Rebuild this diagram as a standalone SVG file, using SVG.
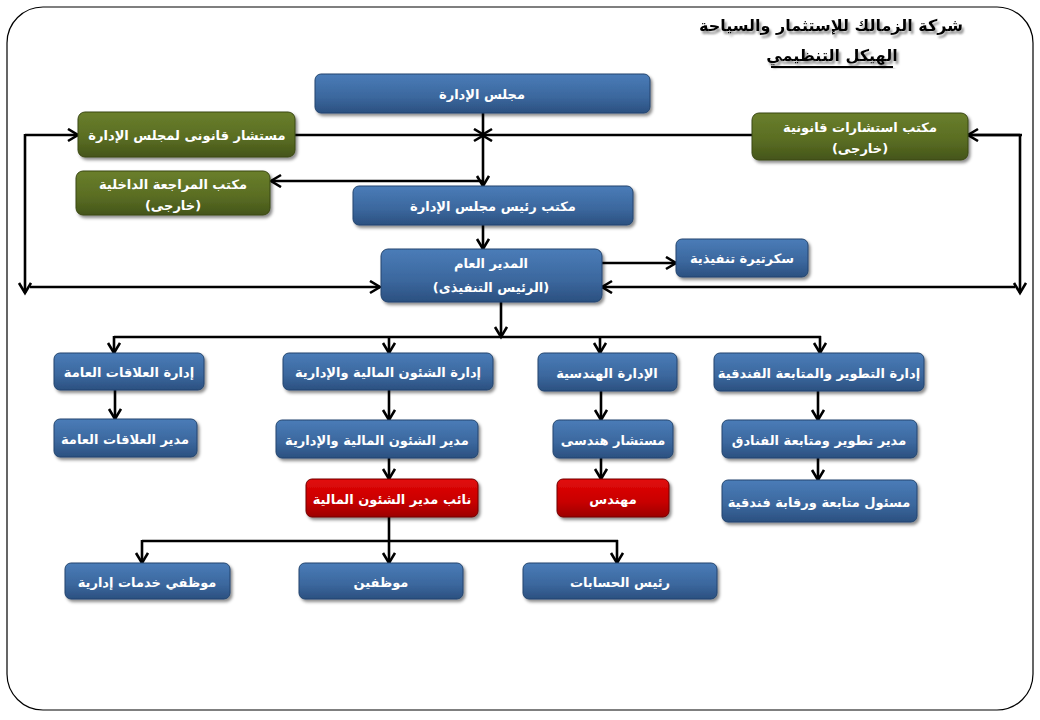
<svg xmlns="http://www.w3.org/2000/svg" width="1040" height="720" viewBox="0 0 1040 720">
<defs>
<linearGradient id="gBlue" x1="0" y1="0" x2="0" y2="1">
<stop offset="0" stop-color="#4a7cb8"/><stop offset="0.6" stop-color="#3b679d"/><stop offset="1" stop-color="#2b5080"/>
</linearGradient>
<linearGradient id="gGreen" x1="0" y1="0" x2="0" y2="1">
<stop offset="0" stop-color="#6a7f2c"/><stop offset="0.6" stop-color="#596c22"/><stop offset="1" stop-color="#44551a"/>
</linearGradient>
<linearGradient id="gRed" x1="0" y1="0" x2="0" y2="1">
<stop offset="0" stop-color="#e20a0a"/><stop offset="0.6" stop-color="#c80000"/><stop offset="1" stop-color="#9c0000"/>
</linearGradient>
<filter id="sh" x="-10%" y="-20%" width="130%" height="160%">
<feDropShadow dx="2" dy="2.5" stdDeviation="1.5" flood-color="#000" flood-opacity="0.45"/>
</filter>
<filter id="tsh" x="-10%" y="-30%" width="130%" height="180%">
<feDropShadow dx="2" dy="3" stdDeviation="1.2" flood-color="#777" flood-opacity="0.8"/>
</filter>
<marker id="ah" markerUnits="userSpaceOnUse" markerWidth="16" markerHeight="16" refX="12" refY="7" orient="auto">
<path d="M2,1 L12,7 L2,13" fill="none" stroke="#000" stroke-width="2.6" stroke-linejoin="miter"/>
</marker>
<style>
.b{fill:url(#gBlue);stroke:#24456e;stroke-width:1;filter:url(#sh)}
.g{fill:url(#gGreen);stroke:#3a4812;stroke-width:1;filter:url(#sh)}
.r{fill:url(#gRed);stroke:#700000;stroke-width:1;filter:url(#sh)}
.t{font-family:"DejaVu Sans","Liberation Sans",sans-serif;font-weight:bold;font-size:13px;fill:#fff;text-anchor:middle}
.c line,.c path{stroke:#000;stroke-width:2.6;fill:none}
.a{marker-end:url(#ah)}
.title{font-family:"DejaVu Sans","Liberation Sans",sans-serif;font-weight:bold;fill:#000;text-anchor:middle;filter:url(#tsh)}
</style>
</defs>
<rect x="7" y="7" width="1026" height="703" rx="36" ry="36" fill="#fff" stroke="#000" stroke-width="1.2"/>
<g id="title">
<text class="title" x="831" y="31" font-size="16">شركة الزمالك للإستثمار والسياحة</text>
<text class="title" x="832" y="61" font-size="16">الهيكل التنظيمي</text>
<rect x="771" y="66" width="122" height="2" fill="#000" filter="url(#tsh)"/>
</g>
<g id="connectors" class="c">
<line class="a" x1="483" y1="113" x2="483" y2="186"/>
<line class="a" x1="295" y1="135" x2="484" y2="135"/>
<line class="a" x1="752" y1="135" x2="482" y2="135"/>
<line class="a" x1="483" y1="181" x2="271" y2="181"/>
<line class="a" x1="483" y1="225" x2="483" y2="249"/>
<line class="a" x1="25" y1="135" x2="78" y2="135"/>
<line class="a" x1="25" y1="134" x2="25" y2="293"/>
<line class="a" x1="30" y1="287" x2="380" y2="287"/>
<line x1="968" y1="135" x2="1022" y2="135"/>
<line class="a" x1="1020" y1="135" x2="968" y2="135"/>
<line class="a" x1="1020" y1="134" x2="1020" y2="293"/>
<line class="a" x1="1015" y1="287" x2="602" y2="287"/>
<line class="a" x1="602" y1="263" x2="676" y2="263"/>
<line class="a" x1="501" y1="302" x2="501" y2="337"/>
<line x1="114" y1="337" x2="821" y2="337"/>
<line class="a" x1="114" y1="336" x2="114" y2="353"/>
<line class="a" x1="389" y1="336" x2="389" y2="353"/>
<line class="a" x1="600" y1="336" x2="600" y2="353"/>
<line class="a" x1="820" y1="336" x2="820" y2="353"/>
<line class="a" x1="115" y1="390" x2="115" y2="419"/>
<line class="a" x1="389" y1="390" x2="389" y2="420"/>
<line class="a" x1="601" y1="391" x2="601" y2="420"/>
<line class="a" x1="818" y1="391" x2="818" y2="420"/>
<line class="a" x1="389" y1="458" x2="389" y2="479"/>
<line class="a" x1="601" y1="458" x2="601" y2="479"/>
<line class="a" x1="818" y1="458" x2="818" y2="480"/>
<line class="a" x1="389" y1="517" x2="389" y2="563"/>
<line x1="142" y1="541" x2="618" y2="541"/>
<line class="a" x1="142" y1="540" x2="142" y2="563"/>
<line class="a" x1="617" y1="540" x2="617" y2="563"/>
</g>
<g id="n-board"><rect class="b" x="315" y="74" width="335" height="39" rx="6"/><text class="t" x="482" y="99">مجلس الإدارة</text></g>
<g id="n-chairman-office"><rect class="b" x="353" y="186" width="280" height="39" rx="6"/><text class="t" x="493" y="211">مكتب رئيس مجلس الإدارة</text></g>
<g id="n-legal-advisor"><rect class="g" x="78" y="112" width="217" height="45" rx="7"/><text class="t" x="187" y="140">مستشار قانونى لمجلس الإدارة</text></g>
<g id="n-internal-audit"><rect class="g" x="76" y="171" width="194" height="44" rx="7"/><text class="t" x="173" y="189">مكتب المراجعة الداخلية</text><text class="t" x="173" y="210">(خارجى)</text></g>
<g id="n-legal-office"><rect class="g" x="752" y="113" width="216" height="47" rx="7"/><text class="t" x="860" y="132">مكتب استشارات قانونية</text><text class="t" x="860" y="153">(خارجى)</text></g>
<g id="n-secretary"><rect class="b" x="676" y="239" width="132" height="38" rx="6"/><text class="t" x="742" y="263">سكرتيرة تنفيذية</text></g>
<g id="n-gm"><rect class="b" x="381" y="249" width="221" height="53" rx="7"/><text class="t" x="491" y="268">المدير العام</text><text class="t" x="491" y="292">(الرئيس التنفيذى)</text></g>
<g id="n-pr-dept"><rect class="b" x="54" y="353" width="150" height="37" rx="6"/><text class="t" x="129" y="377">إدارة العلاقات العامة</text></g>
<g id="n-fin-dept"><rect class="b" x="283" y="353" width="210" height="37" rx="6"/><text class="t" x="388" y="377">إدارة الشئون المالية والإدارية</text></g>
<g id="n-eng-dept"><rect class="b" x="538" y="353" width="139" height="38" rx="6"/><text class="t" x="607" y="378">الإدارة الهندسية</text></g>
<g id="n-hotel-dept"><rect class="b" x="714" y="353" width="210" height="38" rx="6"/><text class="t" x="819" y="378">إدارة التطوير والمتابعة الفندقية</text></g>
<g id="n-pr-mgr"><rect class="b" x="54" y="419" width="143" height="38" rx="6"/><text class="t" x="125" y="444">مدير العلاقات العامة</text></g>
<g id="n-fin-mgr"><rect class="b" x="276" y="420" width="202" height="38" rx="6"/><text class="t" x="377" y="445">مدير الشئون المالية والإدارية</text></g>
<g id="n-eng-advisor"><rect class="b" x="553" y="420" width="120" height="38" rx="6"/><text class="t" x="613" y="445">مستشار هندسى</text></g>
<g id="n-hotel-mgr"><rect class="b" x="722" y="420" width="195" height="38" rx="6"/><text class="t" x="819" y="445">مدير تطوير ومتابعة الفنادق</text></g>
<g id="n-fin-deputy"><rect class="r" x="306" y="479" width="172" height="38" rx="6"/><text class="t" x="392" y="504">نائب مدير الشئون المالية</text></g>
<g id="n-engineer"><rect class="r" x="557" y="479" width="112" height="38" rx="6"/><text class="t" x="613" y="504">مهندس</text></g>
<g id="n-hotel-officer"><rect class="b" x="722" y="480" width="195" height="42" rx="6"/><text class="t" x="819" y="507">مسئول متابعة ورقابة فندقية</text></g>
<g id="n-admin-staff"><rect class="b" x="65" y="563" width="165" height="36" rx="6"/><text class="t" x="147" y="587">موظفي خدمات إدارية</text></g>
<g id="n-staff"><rect class="b" x="299" y="563" width="164" height="36" rx="6"/><text class="t" x="381" y="587">موظفين</text></g>
<g id="n-accounts-head"><rect class="b" x="523" y="563" width="194" height="36" rx="6"/><text class="t" x="620" y="587">رئيس الحسابات</text></g>
</svg>
